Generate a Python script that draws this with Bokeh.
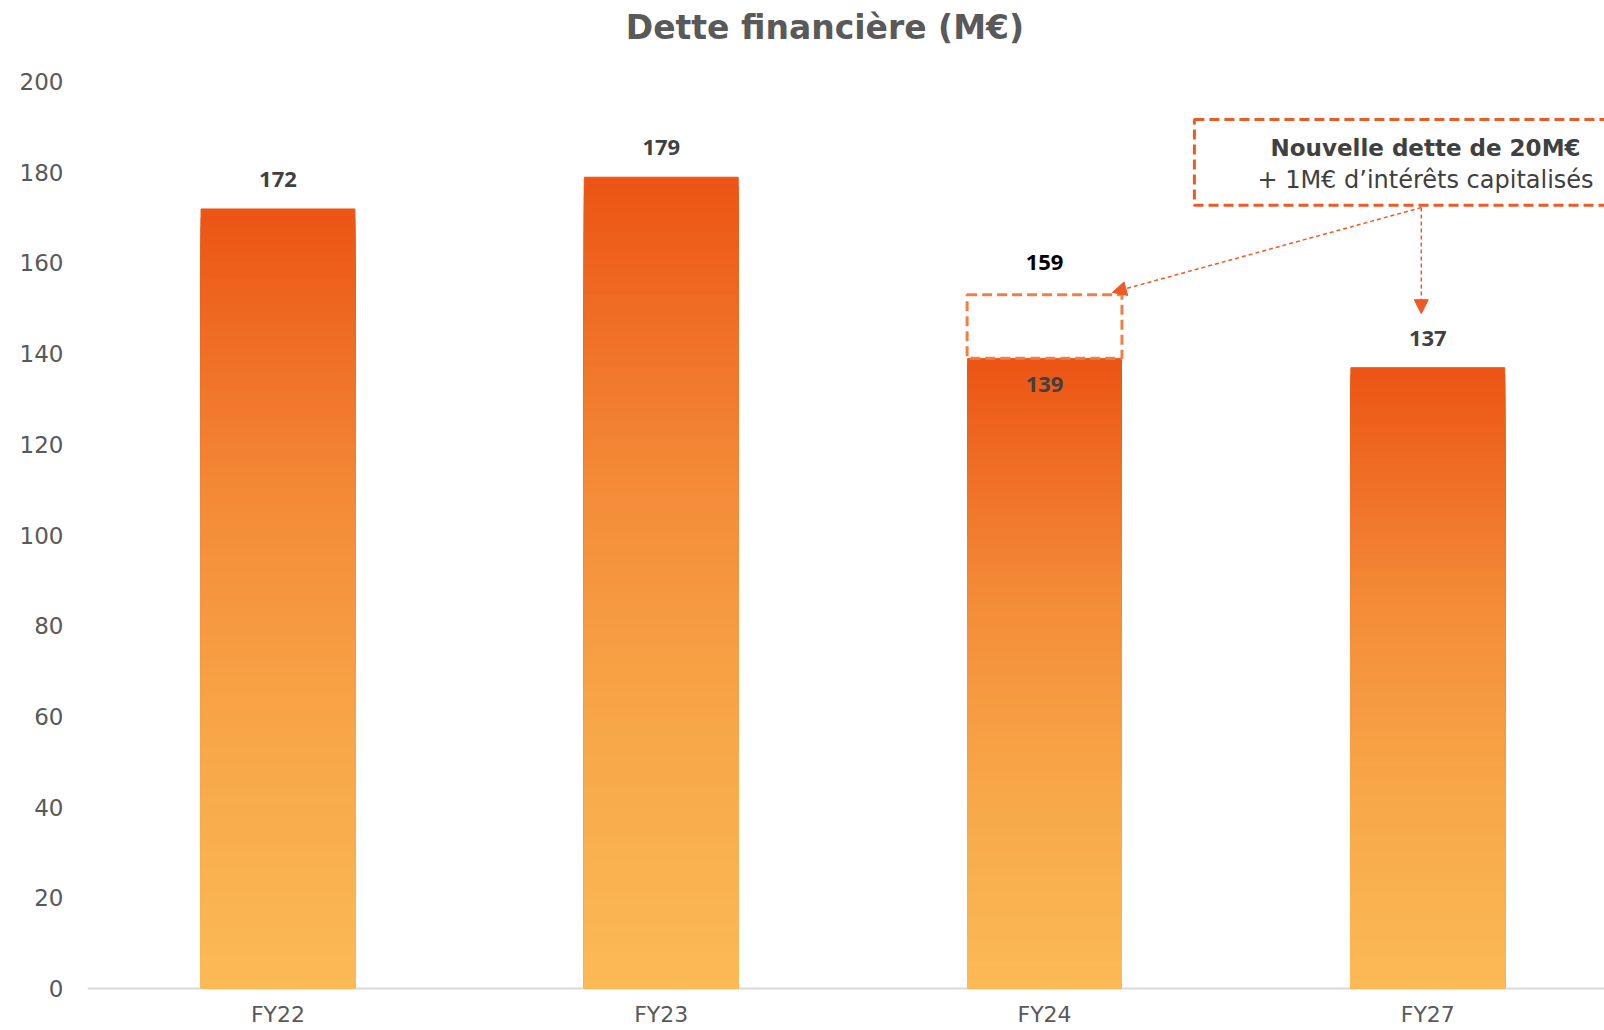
from bokeh.plotting import figure
from bokeh.models import Range1d, FixedTicker, Label, Arrow, NormalHead, Span
from bokeh.core.properties import value
from bokeh.embed import file_html
from bokeh.resources import INLINE

# ---------------- data ----------------
categories = ["FY22", "FY23", "FY24", "FY27"]
debt = [172, 179, 139, 137]
fy24_total = 159          # FY24 incl. new debt (label)
fy24_box_top = 153        # top of the dashed "new debt" box as drawn
y_ticks = [0, 20, 40, 60, 80, 100, 120, 140, 160, 180, 200]
title_text = "Dette financière (M€)"
note_line1 = "Nouvelle dette de 20M€"
note_line2 = "+ 1M€ d’intérêts capitalisés"

# gradient stops (fraction from bottom -> colour)
grad_stops = [(0.0, (251, 186, 86)), (0.30, (248, 168, 73)), (0.61, (244, 141, 56)),
              (0.83, (239, 109, 36)), (1.0, (236, 84, 20))]

FONT = "DejaVu Sans"
NUM_FONT = "Open Sans"
GREY = "#595959"
DARK = "#404040"
ORANGE = "#EE5A24"
LIGHT_ORANGE = "#F07F45"


def grad_color(f):
    for (f0, c0), (f1, c1) in zip(grad_stops[:-1], grad_stops[1:]):
        if f0 <= f <= f1:
            t = (f - f0) / (f1 - f0)
            c = [round(a + (b - a) * t) for a, b in zip(c0, c1)]
            return "#%02x%02x%02x" % tuple(c)
    return "#%02x%02x%02x" % grad_stops[-1][1]


xs = list(range(len(categories)))

p = figure(width=1604, height=1030, output_backend="svg", toolbar_location=None,
           x_range=Range1d(-0.497, 3.461), y_range=Range1d(-9.26, 217.86),
           x_axis_location=None,
           min_border_left=87, min_border_right=0, min_border_top=0, min_border_bottom=0)
p.outline_line_color = None
p.background_fill_color = "white"
p.border_fill_color = "white"
p.xgrid.visible = False
p.ygrid.visible = False

# baseline (category axis line)
p.add_layout(Span(location=0, dimension="width", line_color="#D9D9D9", line_width=2, level="underlay"))

# --- gradient bars: nested slices from 0 up, tallest (top colour) drawn first ---
N = 90
bw = 0.404
sx, st, sc = [], [], []
for x, v in zip(xs, debt):
    for k in range(N - 1, -1, -1):
        sx.append(x)
        st.append(v * (k + 1) / N - 0.11)
        sc.append(grad_color((k + 0.5) / N))
p.vbar(x=sx, width=bw - 0.0026, bottom=0.11, top=st, fill_color=sc, line_color=sc, line_width=1)

# dashed box for new debt on FY24
i24 = categories.index("FY24")
p.quad(left=[xs[i24] - bw / 2], right=[xs[i24] + bw / 2], bottom=[debt[i24]], top=[fy24_box_top],
       fill_color=None, line_color=LIGHT_ORANGE, line_width=3, line_dash="10 5")

# --- value labels ---
above_x = [x for x, c in zip(xs, categories) if c != "FY24"]
above_y = [v for v, c in zip(debt, categories) if c != "FY24"]
p.text(x=above_x, y=above_y, text=[str(v) for v in above_y], text_align="center",
       text_baseline="middle", y_offset=-29, text_font=value(NUM_FONT), text_font_style="bold",
       text_font_size="22px", text_color=DARK)
p.text(x=[xs[i24]], y=[fy24_box_top], text=[str(fy24_total)], text_align="center",
       text_baseline="middle", y_offset=-32, text_font=value(NUM_FONT), text_font_style="bold",
       text_font_size="22px", text_color="#000000")
p.text(x=[xs[i24]], y=[debt[i24]], text=[str(debt[i24])], text_align="center",
       text_baseline="middle", y_offset=26, text_font=value(NUM_FONT), text_font_style="bold",
       text_font_size="22px", text_color=DARK)

# category labels under the baseline
p.text(x=xs, y=[0] * len(xs), text=categories, text_align="center", text_baseline="top",
       y_offset=13, text_font=value(FONT), text_font_size="22px", text_color=GREY)

# --- annotation box (top right) ---
p.quad(left=[2.391], right=[3.7], bottom=[172.7], top=[191.6], fill_color=None,
       line_color=ORANGE, line_width=3, line_dash="10 5")
p.add_layout(Label(x=2.994, y=185.4, text=note_line1, text_align="center", text_baseline="middle",
                   text_font=FONT, text_font_style="bold", text_font_size="23px", text_color=DARK))
p.add_layout(Label(x=2.994, y=178.2, text=note_line2, text_align="center", text_baseline="middle",
                   text_font=FONT, text_font_size="24px", text_color=DARK))

# arrows
for xe, ye in [(2.983, 148.8), (2.177, 153.5)]:
    p.add_layout(Arrow(end=NormalHead(size=14, fill_color=ORANGE, line_color=ORANGE),
                       x_start=2.983, y_start=172.2, x_end=xe, y_end=ye,
                       line_color=ORANGE, line_width=1.5, line_dash="4 3"))

# --- title ---
p.add_layout(Label(x=1.427, y=211.8, text=title_text, text_align="center", text_baseline="middle",
                   text_font=FONT, text_font_style="bold", text_font_size="33px", text_color=GREY))

# --- y axis ---
p.yaxis.ticker = FixedTicker(ticks=y_ticks)
p.yaxis.axis_line_color = None
p.yaxis.major_tick_line_color = None
p.yaxis.minor_tick_line_color = None
p.yaxis.major_label_standoff = 18
p.yaxis.major_label_text_font = FONT
p.yaxis.major_label_text_font_size = "23px"
p.yaxis.major_label_text_color = GREY

open("out.html", "w").write(file_html(p, INLINE))
